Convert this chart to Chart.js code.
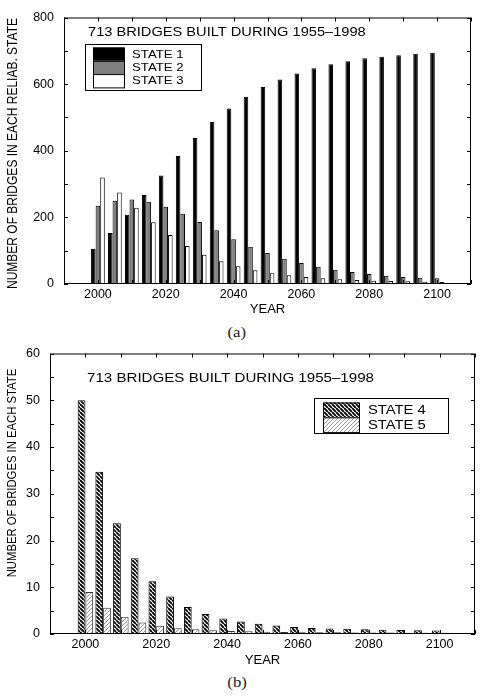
<!DOCTYPE html>
<html>
<head>
<meta charset="utf-8">
<script src="https://cdn.jsdelivr.net/npm/chart.js@4.4.0/dist/chart.umd.min.js"></script>
<style>
    html, body { margin: 0; padding: 0; background: #fff; }
    #page { position: relative; width: 487px; height: 700px; overflow: hidden; }
    .box { position: absolute; left: 0; width: 487px; }
    .cap { position: absolute; left: 0; width: 474px; text-align: center; line-height: 16px; font-weight: normal;
           font-family: "Liberation Serif", "Times New Roman", serif; font-size: 14px; color: #222; }
    .cap span { display: inline-block; transform: scaleX(1.2); }
</style>
</head>
<body>
<div id="page">
    <div class="box" style="top:0;height:322px"><canvas id="chartA"></canvas></div>
    <div class="cap" style="top:325px"><span>(a)</span></div>
    <div class="box" style="top:336px;height:336px"><canvas id="chartB"></canvas></div>
    <div class="cap" style="top:675px"><span>(b)</span></div>
</div>
<script>
// Data
const years = [2000, 2005, 2010, 2015, 2020, 2025, 2030, 2035, 2040, 2045, 2050,
               2055, 2060, 2065, 2070, 2075, 2080, 2085, 2090, 2095, 2100];
const state1 = [105, 153, 208, 267, 326, 384, 438, 486, 527, 562, 591, 614, 632, 648, 660, 669, 678, 682, 687, 691, 694];
const state2 = [235, 250, 254, 247, 232, 211, 186, 161, 134, 112, 93, 76, 63, 52, 43, 36, 30, 25, 21, 19, 17];
const state3 = [320, 275, 229, 185, 147, 114, 88, 68, 53, 41, 32, 26, 21, 17, 14, 12, 10, 9, 8, 7, 6];
const state4 = [50, 34.7, 23.7, 16.2, 11.3, 8.0, 5.8, 4.3, 3.3, 2.7, 2.2, 1.8, 1.5, 1.3, 1.2, 1.1, 1.0, 0.9, 0.85, 0.8, 0.75];
const state5 = [9.0, 5.6, 3.7, 2.45, 1.75, 1.25, 1.0, 0.78, 0.65, 0.58, 0.5, 0.45, 0.4, 0.38, 0.35, 0.33, 0.3, 0.3, 0.28, 0.27, 0.25];
const xTicks = [2000, 2020, 2040, 2060, 2080, 2100];
const yTicksA = [0, 200, 400, 600, 800];
const yTicksB = [0, 10, 20, 30, 40, 50, 60];
const note = "713 BRIDGES BUILT DURING 1955\u20131998";

Chart.defaults.font.family = "'Liberation Sans', Arial, Helvetica, sans-serif";
Chart.defaults.color = "#000";

const toXY = (vals) => years.map((yr, i) => ({ x: yr, y: vals[i] }));

// the scanned figure is stretched sideways, so the hand drawn text is too
const wideText = (ctx, text, x, y, sx) => {
    ctx.save();
    ctx.translate(x, y);
    ctx.scale(sx, 1);
    ctx.fillText(text, 0, 0);
    ctx.restore();
};

const makeHatch = (ctx, color, lineWidth, dir) => {
    const size = 4;
    const c = document.createElement("canvas");
    c.width = size;
    c.height = size;
    const g = c.getContext("2d");
    g.fillStyle = "#fff";
    g.fillRect(0, 0, size, size);
    g.strokeStyle = color;
    g.lineWidth = lineWidth;
    g.beginPath();
    for (let k = -1; k <= 1; k++) {
        if (dir === "down") { g.moveTo(k * size, 0); g.lineTo(k * size + size, size); }
        else { g.moveTo(k * size, size); g.lineTo(k * size + size, 0); }
    }
    g.stroke();
    return ctx.createPattern(c, "repeat");
};

// frame with inward ticks, the note, the boxed legend and the y title
const framePlugin = {
    id: "frame",
    afterDatasetsDraw(chart, args, opts) {
        const { ctx, chartArea: a } = chart;
        const xs = chart.scales.x, ys = chart.scales.y;
        ctx.save();
        ctx.strokeStyle = "#000";
        ctx.lineWidth = 1;
        ctx.strokeRect(a.left + 0.5, a.top + 0.5, a.right - a.left - 1, a.bottom - a.top - 1);
        ctx.beginPath();
        xs.ticks.forEach((t) => {
            const px = Math.round(xs.getPixelForValue(t.value)) + 0.5;
            ctx.moveTo(px, a.bottom); ctx.lineTo(px, a.bottom - 4);
            ctx.moveTo(px, a.top); ctx.lineTo(px, a.top + 4);
        });
        ys.ticks.forEach((t) => {
            const py = Math.round(ys.getPixelForValue(t.value)) + 0.5;
            ctx.moveTo(a.left, py); ctx.lineTo(a.left + 4, py);
            ctx.moveTo(a.right, py); ctx.lineTo(a.right - 4, py);
        });
        ctx.stroke();

        ctx.fillStyle = "#000";
        ctx.textAlign = "left";
        ctx.textBaseline = "alphabetic";
        ctx.font = opts.noteSize + "px 'Liberation Sans', Arial, sans-serif";
        wideText(ctx, note, opts.noteX, opts.noteY, 1.2);

        const lg = opts.legend;
        ctx.strokeRect(lg.x + 0.5, lg.y + 0.5, lg.w, lg.h);
        ctx.font = lg.size + "px 'Liberation Sans', Arial, sans-serif";
        ctx.textBaseline = "middle";
        chart.data.datasets.forEach((ds, i) => {
            const top = lg.rowY + i * lg.rowH;
            ctx.fillStyle = ds.backgroundColor;
            ctx.fillRect(lg.swX, top, lg.swW, lg.rowH);
            ctx.strokeRect(lg.swX + 0.5, top + 0.5, lg.swW, lg.rowH);
            ctx.fillStyle = "#000";
            wideText(ctx, ds.label, lg.textX, top + lg.rowH / 2 + 0.5, 1.2);
        });

        ctx.save();
        ctx.translate(opts.yTitleX, opts.yTitleY);
        ctx.scale(1.2, 1);
        ctx.rotate(-Math.PI / 2);
        ctx.textAlign = "center";
        ctx.textBaseline = "middle";
        ctx.font = opts.yTitleSize + "px 'Liberation Sans', Arial, sans-serif";
        ctx.fillText(opts.yTitle, 0, 0);
        ctx.restore();
        ctx.restore();
    }
};

const xScale = (height, titlePad) => ({
    type: "linear",
    min: 1990,
    max: 2110,
    offset: false,
    grid: { display: false, drawTicks: false, offset: false },
    border: { display: false },
    ticks: {
        stepSize: 10,
        autoSkip: false,
        maxRotation: 0,
        padding: 3,
        font: { size: 12.5 },
        callback: (v) => (xTicks.includes(v) ? String(v) : "")
    },
    title: { display: true, text: "YEAR", font: { size: 13 }, padding: { top: 0, bottom: titlePad } },
    afterFit: (s) => { s.height = height; }
});

const yScale = (max, step, labels, width) => ({
    min: 0,
    max: max,
    grid: { display: false, drawTicks: false },
    border: { display: false },
    ticks: {
        stepSize: step,
        autoSkip: false,
        padding: 10,
        font: { size: 12.5 },
        callback: (v) => (labels.includes(v) ? String(v) : "")
    },
    afterFit: (s) => { s.width = width; }
});

window.onload = () => {
    // (a) states 1 to 3
    new Chart(document.getElementById("chartA"), {
        type: "bar",
        data: {
            datasets: [
                { label: "STATE 1", data: toXY(state1), backgroundColor: "#000" },
                { label: "STATE 2", data: toXY(state2), backgroundColor: "#808080" },
                { label: "STATE 3", data: toXY(state3), backgroundColor: "#fff" }
            ]
        },
        options: {
            responsive: true,
            maintainAspectRatio: false,
            animation: false,
            layout: { padding: { top: 12, right: 16, left: 0, bottom: 0 } },
            datasets: { bar: { borderColor: "#000", borderWidth: 1, categoryPercentage: 0.81, barPercentage: 1 } },
            scales: { x: xScale(38, 5), y: yScale(800, 100, yTicksA, 64) },
            plugins: {
                legend: { display: false },
                tooltip: { enabled: false },
                frame: {
                    noteX: 88, noteY: 35.5, noteSize: 12.2,
                    legend: { x: 85, y: 44, w: 116, h: 46, swX: 93, swW: 31, rowY: 47.5, rowH: 13.3, textX: 132, size: 11 },
                    yTitle: "NUMBER OF BRIDGES IN EACH RELIAB. STATE", yTitleX: 13, yTitleY: 153.5, yTitleSize: 12
                }
            }
        },
        plugins: [framePlugin]
    });

    // (b) states 4 and 5, hatched
    const ctxB = document.getElementById("chartB").getContext("2d");
    new Chart(ctxB, {
        type: "bar",
        data: {
            datasets: [
                { label: "STATE 4", data: toXY(state4), backgroundColor: makeHatch(ctxB, "#000", 1.9, "down"), borderColor: "#000" },
                { label: "STATE 5", data: toXY(state5), backgroundColor: makeHatch(ctxB, "#9a9a9a", 1, "up"), borderColor: "#333" }
            ]
        },
        options: {
            responsive: true,
            maintainAspectRatio: false,
            animation: false,
            layout: { padding: { top: 12, right: 12, left: 0, bottom: 0 } },
            datasets: { bar: { borderWidth: 1, categoryPercentage: 0.875, barPercentage: 1 } },
            scales: { x: xScale(38, 3.5), y: yScale(60, 5, yTicksB, 50) },
            plugins: {
                legend: { display: false },
                tooltip: { enabled: false },
                frame: {
                    noteX: 87, noteY: 45.7, noteSize: 12.6,
                    legend: { x: 314, y: 62, w: 134, h: 35, swX: 323, swW: 36, rowY: 66.5, rowH: 14.8, textX: 368, size: 12.3 },
                    yTitle: "NUMBER OF BRIDGES IN EACH STATE", yTitleX: 12.5, yTitleY: 137, yTitleSize: 11.3
                }
            }
        },
        plugins: [framePlugin]
    });
};
</script>
</body>
</html>
